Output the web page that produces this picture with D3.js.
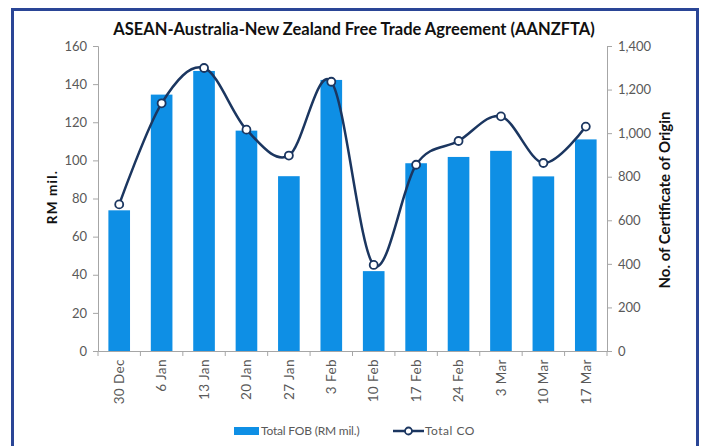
<!DOCTYPE html>
<html>
<head>
<meta charset="utf-8">
<script src="https://cdn.jsdelivr.net/npm/d3@7"></script>
<style>
  body { margin: 0; background: #fff; }
  svg text { font-family: "Lato", "DejaVu Sans", sans-serif; }
</style>
</head>
<body>
<div id="chart"></div>
<script>
// weeks on the x axis
const weeks = ["30 Dec", "6 Jan", "13 Jan", "20 Jan", "27 Jan", "3 Feb", "10 Feb", "17 Feb", "24 Feb", "3 Mar", "10 Mar", "17 Mar"];
// Total FOB, RM mil. (bars, left axis)
const fobValues = [73.8, 134.5, 146.9, 115.6, 91.7, 142.2, 41.9, 98.5, 101.8, 105, 91.6, 111];
// Total CO count (line, right axis)
const coValues = [673, 1137, 1299, 1016, 897, 1236, 395, 855, 964, 1077, 863, 1030];

const leftTicks = [0, 20, 40, 60, 80, 100, 120, 140, 160];
const rightTicks = [0, 200, 400, 600, 800, 1000, 1200, 1400];

const W = 705, H = 446;
const margin = {top: 46, right: 98, bottom: 95, left: 98};

const svg = d3.select("#chart").append("svg")
    .attr("width", W)
    .attr("height", H);

// blue frame
svg.append("rect")
    .attr("x", 12.5).attr("y", 9.5)
    .attr("width", 685).attr("height", 460)
    .attr("fill", "none")
    .attr("stroke", "#2a4596")
    .attr("stroke-width", 3);

const x = d3.scaleBand()
    .domain(weeks)
    .range([margin.left, W - margin.right])
    .paddingInner(0.49)
    .paddingOuter(0.245);

const yL = d3.scaleLinear().domain([0, 160]).range([H - margin.bottom, margin.top]);
const yR = d3.scaleLinear().domain([0, 1400]).range([H - margin.bottom, margin.top]);

// bars
svg.append("g").selectAll("rect")
    .data(fobValues)
    .enter().append("rect")
    .attr("x", (d, i) => x(weeks[i]))
    .attr("y", d => yL(d))
    .attr("width", x.bandwidth())
    .attr("height", d => yL(0) - yL(d))
    .attr("fill", "#0e8fe5");

// axes
const axisColor = "#a6a6a6";
const tickText = "#595959";

const leftAxis = svg.append("g")
    .attr("transform", "translate(" + margin.left + ",0)")
    .call(d3.axisLeft(yL).tickValues(leftTicks).tickSize(5).tickPadding(6));

const rightAxis = svg.append("g")
    .attr("transform", "translate(" + (W - margin.right) + ",0)")
    .call(d3.axisRight(yR).tickValues(rightTicks).tickSize(5).tickPadding(6)
        .tickFormat(d3.format(",")));

const bottomAxis = svg.append("g")
    .attr("transform", "translate(0," + yL(0) + ")")
    .call(d3.axisBottom(x).tickSize(0).tickPadding(8));

// category separators below the x axis
const step = x.step();
bottomAxis.selectAll(".sep")
    .data(d3.range(weeks.length + 1))
    .enter().append("line")
    .attr("class", "sep")
    .attr("x1", i => margin.left + i * step)
    .attr("x2", i => margin.left + i * step)
    .attr("y1", 0).attr("y2", 5)
    .attr("stroke", axisColor);

[leftAxis, rightAxis, bottomAxis].forEach(function (g) {
    g.select(".domain").attr("stroke", axisColor);
    g.selectAll(".tick line").attr("stroke", axisColor);
    g.selectAll(".tick text")
        .attr("fill", tickText)
        .style("font-size", "13px");
});

bottomAxis.selectAll(".tick text")
    .attr("transform", "rotate(-90)")
    .attr("text-anchor", "end")
    .attr("dx", "-0.6em")
    .attr("dy", "0.35em")
    .attr("x", 0).attr("y", 0)
    .style("font-size", "13.5px")
    .style("letter-spacing", "0.4px");

// CO line
const line = d3.line()
    .x((d, i) => x(weeks[i]) + x.bandwidth() / 2)
    .y(d => yR(d))
    .curve(d3.curveCatmullRom.alpha(0));

svg.append("path")
    .datum(coValues)
    .attr("d", line)
    .attr("fill", "none")
    .attr("stroke", "#1b3660")
    .attr("stroke-width", 2.5);

svg.append("g").selectAll("circle")
    .data(coValues)
    .enter().append("circle")
    .attr("cx", (d, i) => x(weeks[i]) + x.bandwidth() / 2)
    .attr("cy", d => yR(d))
    .attr("r", 4)
    .attr("fill", "#fff")
    .attr("stroke", "#1b3660")
    .attr("stroke-width", 1.8);

// titles
svg.append("text")
    .attr("x", 354).attr("y", 35)
    .attr("text-anchor", "middle")
    .style("font-size", "16.5px")
    .style("font-weight", "bold")
    .attr("fill", "#111")
    .text("ASEAN-Australia-New Zealand Free Trade Agreement (AANZFTA)");

svg.append("text")
    .attr("transform", "translate(56.5,197) rotate(-90)")
    .attr("text-anchor", "middle")
    .style("font-size", "13.5px")
    .style("font-weight", "bold")
    .style("letter-spacing", "1.2px")
    .attr("fill", "#111")
    .text("RM mil.");

svg.append("text")
    .attr("transform", "translate(670,200) rotate(-90)")
    .attr("text-anchor", "middle")
    .style("font-size", "15px")
    .style("font-weight", "bold")
    .attr("fill", "#111")
    .text("No. of Certificate of Origin");

// legend
const legend = svg.append("g").attr("transform", "translate(0,431)");
legend.append("rect")
    .attr("x", 234).attr("y", -4)
    .attr("width", 25).attr("height", 8)
    .attr("fill", "#0e8fe5");
legend.append("text")
    .attr("x", 261).attr("y", 0).attr("dy", "0.35em")
    .style("font-size", "12px")
    .style("letter-spacing", "-0.2px")
    .attr("fill", tickText)
    .text("Total FOB (RM mil.)");
legend.append("line")
    .attr("x1", 393).attr("x2", 424)
    .attr("y1", 0).attr("y2", 0)
    .attr("stroke", "#1b3660").attr("stroke-width", 2.5);
legend.append("circle")
    .attr("cx", 408.5).attr("cy", 0).attr("r", 3.5)
    .attr("fill", "#fff")
    .attr("stroke", "#1b3660").attr("stroke-width", 1.8);
legend.append("text")
    .attr("x", 425).attr("y", 0).attr("dy", "0.35em")
    .style("font-size", "12px")
    .style("letter-spacing", "0.5px")
    .attr("fill", tickText)
    .text("Total CO");
</script>
</body>
</html>
